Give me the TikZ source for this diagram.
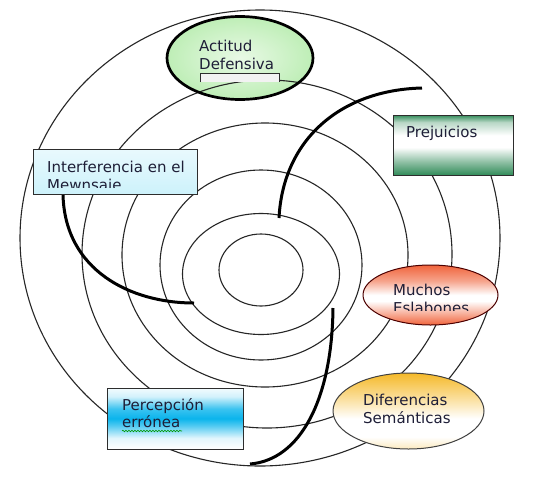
\documentclass[tikz,border=0pt]{standalone}
\usepackage{fontspec}
\setmainfont{DejaVu Sans}
\usetikzlibrary{shapes.geometric,decorations.pathmorphing}

\definecolor{txtc}{RGB}{30,30,55}
\definecolor{pgreen}{RGB}{50,140,90}
\definecolor{morange}{RGB}{240,100,60}
\definecolor{dgold}{RGB}{245,185,40}
\definecolor{pcyan}{RGB}{10,180,236}
\definecolor{icyan}{RGB}{205,242,251}
\definecolor{agreen}{RGB}{190,238,182}
\definecolor{bordc}{RGB}{45,45,45}

\pgfdeclareverticalshading{prejsh}{100bp}{color(0bp)=(pgreen); color(25bp)=(pgreen); color(36bp)=(pgreen!55); color(48bp)=(white); color(58bp)=(white); color(69bp)=(pgreen!35); color(75bp)=(pgreen); color(100bp)=(pgreen)}
\pgfdeclareverticalshading{muchsh}{100bp}{color(0bp)=(morange); color(25bp)=(morange); color(33bp)=(morange!60); color(45bp)=(white); color(50bp)=(white); color(62bp)=(morange!60); color(75bp)=(morange); color(100bp)=(morange)}
\pgfdeclareverticalshading{difsh}{100bp}{color(0bp)=(dgold!30); color(25bp)=(dgold!30); color(33bp)=(white); color(45bp)=(white); color(58bp)=(dgold!45); color(75bp)=(dgold); color(100bp)=(dgold)}
\pgfdeclareverticalshading{percsh}{100bp}{color(0bp)=(white); color(25bp)=(white); color(34bp)=(pcyan!12); color(44bp)=(pcyan!70); color(50bp)=(pcyan); color(58bp)=(pcyan!80); color(68bp)=(pcyan!18); color(75bp)=(pcyan!5); color(100bp)=(pcyan!5)}

\tikzset{
  ring/.style={draw=black!85, line width=1.1pt},
  bold/.style={draw=black, line width=3pt},
  boxshape/.style={draw=bordc, line width=1pt, inner sep=0pt},
  lbl/.style={text=txtc, inner sep=0pt, anchor=base west, font=\fontsize{15}{18}\selectfont},
}

\begin{document}
\begin{tikzpicture}[x=1pt,y=-1pt]
\useasboundingbox (0,0) rectangle (541,480);
\fill[white] (0,0) rectangle (541,480);

% Actitud ellipse fill (circles show through)
\node[ellipse, inner sep=0pt, minimum width=146pt, minimum height=83pt,
      inner color=agreen!35, outer color=agreen] (actfill) at (240,58) {};

% rings
\draw[ring] (260,238) ellipse [x radius=240pt, y radius=228pt];
\draw[ring] (267,254) ellipse [x radius=185pt, y radius=174pt];
\draw[ring] (265,255) ellipse [x radius=143pt, y radius=132pt];
\draw[ring] (261,265) ellipse [x radius=101pt, y radius=95pt];
\draw[ring] (261,274) ellipse [x radius=78.5pt, y radius=60.5pt];
\draw[ring] (261,270) ellipse [x radius=42pt, y radius=36pt];

% Actitud border, small box and text
\node[ellipse, draw=black, line width=2.7pt, inner sep=0pt, minimum width=146pt, minimum height=83pt] (act) at (240,58) {};
\fill[black!5] (200,73) rectangle (279,82);
\draw[bordc, line width=1pt] (200,82) -- (200,73) -- (279,73) -- (279,82);
\node[lbl] (act1) at (199,51) {Actitud};
\node[lbl] (act2) at (199,69) {Defensiva};

% Prejuicios
\node[boxshape, minimum width=120pt, minimum height=60pt, shading=prejsh] (prej) at (453,145) {};
\node[lbl] (prejT) at (406,137) {Prejuicios};

% Interferencia
\node[boxshape, minimum width=164pt, minimum height=45pt, top color=icyan!45, bottom color=icyan] (inter) at (115,171.5) {};
\begin{scope}
\clip (34,150) rectangle (196,187);
\node[lbl] (inter1) at (47,172) {Interferencia en el};
\node[lbl] (inter2) at (47,190) {Mewnsaje};
\end{scope}

% Muchos Eslabones
\node[ellipse, draw=black!70!red, line width=1pt, inner sep=0pt, minimum width=135pt, minimum height=60pt, shading=muchsh] (much) at (430.5,295) {};
\begin{scope}
\clip (363,265) rectangle (498,310);
\node[lbl] (much1) at (393,295) {Muchos};
\node[lbl] (much2) at (393,313) {Eslabones};
\end{scope}

% Diferencias Semanticas
\node[ellipse, draw=black!75, line width=1pt, inner sep=0pt, minimum width=151pt, minimum height=76pt, shading=difsh] (dif) at (408.5,411) {};
\node[lbl] (dif1) at (363,405) {Diferencias};
\node[lbl] (dif2) at (363,423) {Semánticas};

% Percepcion erronea
\node[boxshape, minimum width=136pt, minimum height=61pt, shading=percsh] (perc) at (175,418.5) {};
\node[lbl] (perc1) at (122,410) {Percepción};
\node[lbl] (perc2) at (122,427) {errónea};
\coordinate (sqA) at (122,431);
\coordinate (sqB) at (182,431);
\draw[green!60!black, line width=0.6pt, decorate, decoration={snake, amplitude=0.8pt, segment length=3pt}] (sqA) -- (sqB);

% bold curves
\coordinate (b1s) at (279,218);
\coordinate (b1e) at (422,88);
\draw[bold] (b1s) .. controls (283,140) and (340,90) .. (b1e);
\coordinate (b2s) at (63,195);
\coordinate (b2e) at (194,303);
\draw[bold] (b2s) .. controls (65,270) and (130,303) .. (b2e);
\coordinate (b3s) at (333,308);
\coordinate (b3e) at (250,464);
\draw[bold] (b3s) .. controls (332,400) and (300,460) .. (b3e);
\end{tikzpicture}
\end{document}
